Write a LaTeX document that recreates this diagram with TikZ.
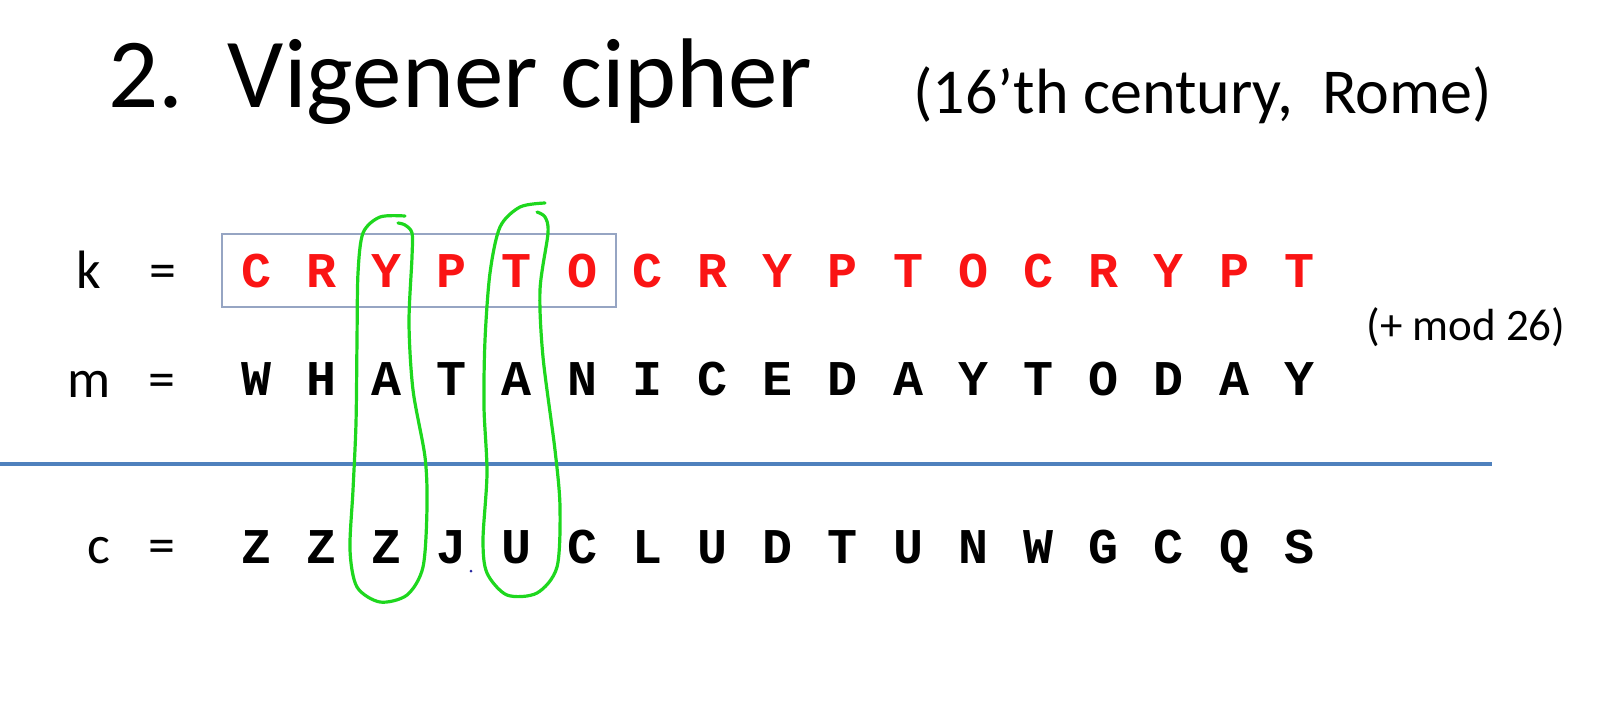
\documentclass[tikz,border=0pt]{standalone}
\usepackage{fontspec}
\setmainfont{Carlito}
\setmonofont{Liberation Mono}
\usepackage{tikz}
\usetikzlibrary{fit}
\definecolor{keyred}{RGB}{250,20,20}
\definecolor{rulecol}{RGB}{79,129,189}
\definecolor{boxcol}{RGB}{150,165,195}
\definecolor{penGreen}{RGB}{30,215,30}
\definecolor{dotblue}{RGB}{40,40,160}
\tikzset{
  ch/.style={inner sep=0pt,anchor=base,font=\fontsize{25}{30}\selectfont\ttfamily\bfseries},
  keych/.style={ch,text=keyred},
  lbl/.style={inner sep=0pt,anchor=base,font=\fontsize{27}{32}\selectfont},
  keyblk/.style={draw=boxcol,line width=1pt,inner sep=9.5pt},
  penloop/.style={draw=penGreen,line width=1.6pt,line cap=round,line join=round},
  sumrule/.style={draw=rulecol,line width=2pt}
}

\begin{document}
\begin{tikzpicture}[x=0.5pt,y=-0.5pt]
    \useasboundingbox (0,0) rectangle (1610,720);

    % Title
    \node[inner sep=0pt,anchor=base west,font=\fontsize{49.5}{58}\selectfont] (title) at (108,107) {2.\hspace{0.45em}Vigener cipher};
    \node[inner sep=0pt,anchor=base west,font=\fontsize{32}{38}\selectfont] (era) at (913,113) {(16’th century,~ Rome)};

    % Row labels
    \node[lbl] (klbl) at (89,288) {k};
    \node[lbl] (keq) at (163,288) {=};
    \node[lbl] (mlbl) at (89,397) {m};
    \node[lbl] (meq) at (162,397) {=};
    \node[lbl] (clbl) at (99,563) {c};
    \node[lbl] (ceq) at (162,563) {=};

    % Key, message, cipher rows
    \foreach \ch [count=\i from 0] in {C,R,Y,P,T,O,C,R,Y,P,T,O,C,R,Y,P,T}
      \node[keych] (k\i) at ({256+65.2*\i},287) {\ch};
    \foreach \ch [count=\i from 0] in {W,H,A,T,A,N,I,C,E,D,A,Y,T,O,D,A,Y}
      \node[ch] (m\i) at ({256+65.2*\i},395) {\ch};
    \foreach \ch [count=\i from 0] in {Z,Z,Z,J,U,C,L,U,D,T,U,N,W,G,C,Q,S}
      \node[ch] (c\i) at ({256+65.2*\i},563) {\ch};

    % Key period box
    \node[keyblk,fit=(k0)(k5)] (period) {};

    % Addition note
    \node[inner sep=0pt,anchor=base west,font=\fontsize{22.5}{27}\selectfont] (modnote) at (1366,340) {(+ mod 26)};

    % Sum rule
    \draw[sumrule] (0,464) -- (1492,464);

    % Hand-drawn loops
    \draw[penloop] plot[smooth] coordinates {(405,216) (380,217) (363,233) (358,273) (357,340) (356,423) (353,490) (350,550) (357,587) (380,602) (407,595) (423,567) (427,507) (425,457) (413,390) (409,323) (412,257) (412,233) (405,225) (398,223)};
    \draw[penloop] plot[smooth] coordinates {(545,203) (520,207) (500,227) (490,273) (485,340) (484,407) (487,473) (483,540) (487,573) (507,595) (537,593) (557,567) (560,507) (555,450) (543,357) (540,290) (548,233) (545,217) (537,212)};
    \fill[dotblue] (471,571) circle (1.5);

  \end{tikzpicture}
\end{document}
